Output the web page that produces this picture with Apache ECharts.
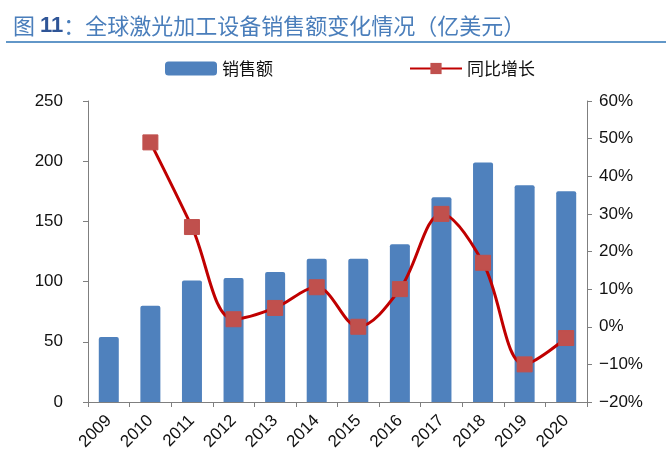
<!DOCTYPE html>
<html>
<head>
<meta charset="utf-8">
<script src="https://cdn.jsdelivr.net/npm/echarts@6/dist/echarts.min.js"></script>
<style>
  html, body { margin: 0; padding: 0; background: #fff; }
  #main { width: 671px; height: 459px; }
</style>
</head>
<body>
<div id="main"></div>
<script>
var years = ['2009', '2010', '2011', '2012', '2013', '2014', '2015', '2016', '2017', '2018', '2019', '2020'];
var sales = [54, 80, 101, 103, 108, 119, 119, 131, 170, 199, 180, 175];
var growth = [null, 49, 26.5, 2, 5, 10.5, 0, 10, 30, 17, -10, -3];
var leftTicks = [0, 250, 50];
var rightTicks = [-20, 60, 10];

var chart = echarts.init(document.getElementById('main'));
var axisColor = '#7f7f7f';
var labelFont = '"Liberation Sans", Arial, sans-serif';
var cjkFont = '"Noto Sans CJK SC", sans-serif';
var options = {
  animation: false,
  title: {
    text: '{a|图 }{b|11}{a|：全球激光加工设备销售额变化情况（亿美元）}',
    left: 8,
    top: 10,
    textStyle: {
      fontWeight: 'normal',
      rich: {
        a: { color: '#4a7ebb', fontSize: 22, fontWeight: 'normal', fontFamily: cjkFont },
        b: { color: '#2f5597', fontSize: 22, fontWeight: 'bold', fontFamily: labelFont }
      }
    }
  },
  graphic: [{
    type: 'line',
    shape: { x1: 6, y1: 42, x2: 666, y2: 42 },
    style: { stroke: '#2e75b6', lineWidth: 1.5 }
  }],
  legend: {
    top: 55,
    left: 160,
    itemGap: 136,
    itemWidth: 52,
    itemHeight: 14,
    textStyle: {
      fontSize: 17,
      color: '#111',
      fontFamily: cjkFont
    },
    data: [
      { name: '销售额', icon: 'roundRect' },
      { name: '同比增长' }
    ]
  },
  grid: { left: 88, right: 84, top: 101, bottom: 57 },
  xAxis: {
    type: 'category',
    data: years,
    axisLine: { lineStyle: { color: axisColor, width: 1 } },
    axisTick: { show: true, interval: 0, length: 5, lineStyle: { color: axisColor } },
    axisLabel: {
      interval: 0,
      rotate: 45,
      color: '#111',
      fontSize: 17,
      fontFamily: labelFont,
      margin: 16
    }
  },
  yAxis: [{
    type: 'value',
    min: leftTicks[0],
    max: leftTicks[1],
    interval: leftTicks[2],
    splitLine: { show: false },
    axisLine: { show: true, lineStyle: { color: axisColor } },
    axisTick: { show: true, length: 5, lineStyle: { color: axisColor } },
    axisLabel: { color: '#111', fontSize: 17, fontFamily: labelFont, margin: 25 }
  }, {
    type: 'value',
    min: rightTicks[0],
    max: rightTicks[1],
    interval: rightTicks[2],
    splitLine: { show: false },
    axisLine: { show: true, lineStyle: { color: axisColor } },
    axisTick: { show: true, length: 5, lineStyle: { color: axisColor } },
    axisLabel: {
      color: '#111',
      fontSize: 17,
      fontFamily: labelFont,
      margin: 12,
      formatter: function (v) { return (v < 0 ? '\u2212' + (-v) : v) + '%'; }
    }
  }],
  series: [{
    name: '销售额',
    type: 'bar',
    data: sales,
    barWidth: 20,
    itemStyle: { color: '#4f81bd', borderRadius: [2, 2, 0, 0] }
  }, {
    name: '同比增长',
    type: 'line',
    yAxisIndex: 1,
    data: growth,
    smooth: 0.35,
    symbol: 'rect',
    symbolSize: 15,
    lineStyle: { color: '#c00000', width: 3 },
    itemStyle: { color: '#c0504d', borderColor: '#c0504d' }
  }]
};
chart.setOption(options);
</script>
</body>
</html>
